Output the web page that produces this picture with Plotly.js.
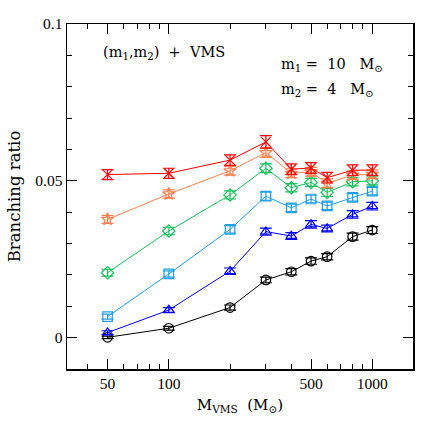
<!DOCTYPE html>
<html>
<head>
<meta charset="utf-8">
<script src="https://cdn.plot.ly/plotly-3.0.1.min.js"></script>
<style>html,body{margin:0;padding:0;background:#fff;}#chart{width:436px;height:436px;}</style>
</head>
<body>
<div id="chart"></div>
<script>
const massVMS = [50, 100, 200, 300, 400, 500, 600, 800, 1000];

const redVals    = [0.0520, 0.0524, 0.0566, 0.0624, 0.0537, 0.0541, 0.0510, 0.0534, 0.0534];
const redErr     = [0.0016, 0.0016, 0.0017, 0.0020, 0.0017, 0.0017, 0.0017, 0.0017, 0.0017];
const orangeVals = [0.0377, 0.0458, 0.0532, 0.0590, 0.0524, 0.0529, 0.0492, 0.0518, 0.0521];
const orangeErr  = [0.0013, 0.0013, 0.0014, 0.0015, 0.0014, 0.0014, 0.0014, 0.0014, 0.0014];
const greenVals  = [0.0207, 0.0340, 0.0455, 0.0540, 0.0478, 0.0495, 0.0463, 0.0497, 0.0500];
const greenErr   = [0.0011, 0.0012, 0.0013, 0.0014, 0.0013, 0.0013, 0.0013, 0.0013, 0.0013];
const cyanVals   = [0.0067, 0.0203, 0.0345, 0.0451, 0.0414, 0.0442, 0.0420, 0.0447, 0.0467];
const cyanErr    = [0.0008, 0.0010, 0.0012, 0.0013, 0.0012, 0.0012, 0.0012, 0.0012, 0.0012];
const blueVals   = [0.0016, 0.0088, 0.0212, 0.0338, 0.0324, 0.0361, 0.0348, 0.0393, 0.0419];
const blueErr    = [0.0006, 0.0008, 0.0010, 0.0011, 0.0011, 0.0012, 0.0011, 0.0012, 0.0012];
const blackVals  = [0.0001, 0.0030, 0.0096, 0.0184, 0.0210, 0.0244, 0.0258, 0.0322, 0.0343];
const blackErr   = [0.0004, 0.0006, 0.0008, 0.0009, 0.0010, 0.0010, 0.0010, 0.0011, 0.0011];

const xTickVals = [50, 100, 500, 1000];
const xTickText = ['50', '100', '500', '1000'];
const xMinorVals = [40, 60, 70, 80, 90, 200, 300, 400, 600, 700, 800, 900];
const yTickVals = [0, 0.05, 0.1];
const yTickText = ['0', '0.05', '0.1'];

const seriesDefs = [
  {y: blackVals,  e: blackErr,  color: '#000000', symbol: 'circle-open'},
  {y: blueVals,   e: blueErr,   color: '#0000ff', symbol: 'triangle-up-open'},
  {y: cyanVals,   e: cyanErr,   color: '#1e9fe6', symbol: 'square-open'},
  {y: greenVals,  e: greenErr,  color: '#17bf5a', symbol: 'diamond-open'},
  {y: orangeVals, e: orangeErr, color: '#ff8050', symbol: 'star-open'},
  {y: redVals,    e: redErr,    color: '#ff0000', symbol: 'x-thin-open'}
];

const traces = seriesDefs.map(s => ({
  x: massVMS, y: s.y, type: 'scatter', mode: 'lines+markers',
  line: {color: s.color, width: 1},
  marker: {symbol: s.symbol, size: 9.5, color: s.color, line: {color: s.color, width: 1.2}},
  error_y: {type: 'data', array: s.e, visible: true, color: s.color, thickness: 1.2, width: 6},
  showlegend: false, hoverinfo: 'skip'
}));

const serif = 'DejaVu Serif, serif';
const tickFont = {family: 'Liberation Serif, serif', size: 15.5, color: '#000'};
const annFont = {family: serif, size: 14.5, color: '#000'};

const layout = {
  width: 436, height: 436,
  margin: {l: 67, r: 23, t: 24, b: 67},
  paper_bgcolor: '#fff', plot_bgcolor: '#fff',
  font: {family: serif, size: 13, color: '#000'},
  showlegend: false,
  xaxis: {
    type: 'log', range: [Math.log10(31.6), Math.log10(1585)],
    tickmode: 'array', tickvals: xTickVals, ticktext: xTickText,
    ticks: 'inside', ticklen: 10, tickwidth: 1, tickcolor: '#000',
    minor: {tickmode: 'array', tickvals: xMinorVals, ticks: 'inside', ticklen: 5, tickwidth: 1, tickcolor: '#000'},
    showline: true, linecolor: '#000', linewidth: 1.5, mirror: 'ticks',
    showgrid: false, zeroline: false,
    tickfont: tickFont,
    title: {text: 'M<sub>VMS</sub>  (M<sub>⊙</sub>)', font: {family: serif, size: 15, color: '#000'}, standoff: 8}
  },
  yaxis: {
    range: [-0.01, 0.1],
    tickmode: 'array', tickvals: yTickVals, ticktext: yTickText,
    ticks: 'inside', ticklen: 10, tickwidth: 1, tickcolor: '#000',
    minor: {dtick: 0.01, tick0: 0, ticks: 'inside', ticklen: 5, tickwidth: 1, tickcolor: '#000'},
    showline: true, linecolor: '#000', linewidth: 1.5, mirror: 'ticks',
    showgrid: false, zeroline: false,
    tickfont: tickFont,
    title: {text: 'Branching ratio', font: {family: serif, size: 16.5, color: '#000'}, standoff: 10}
  },
  annotations: [
    {xref: 'paper', yref: 'paper', x: 0.098, y: 0.915, xanchor: 'left', yanchor: 'middle', showarrow: false,
     text: '(m<sub>1</sub>,m<sub>2</sub>)&nbsp;&nbsp;+&nbsp;&nbsp;VMS', font: annFont},
    {xref: 'paper', yref: 'paper', x: 0.613, y: 0.88, xanchor: 'left', yanchor: 'middle', showarrow: false,
     text: 'm<sub>1</sub>&nbsp;=&nbsp;&nbsp;10&nbsp;&nbsp;&nbsp;M<sub>⊙</sub>', font: annFont},
    {xref: 'paper', yref: 'paper', x: 0.613, y: 0.808, xanchor: 'left', yanchor: 'middle', showarrow: false,
     text: 'm<sub>2</sub>&nbsp;=&nbsp;&nbsp;4&nbsp;&nbsp;&nbsp;M<sub>⊙</sub>', font: annFont}
  ]
};

Plotly.newPlot('chart', traces, layout, {displayModeBar: false, staticPlot: true});
</script>
</body>
</html>
